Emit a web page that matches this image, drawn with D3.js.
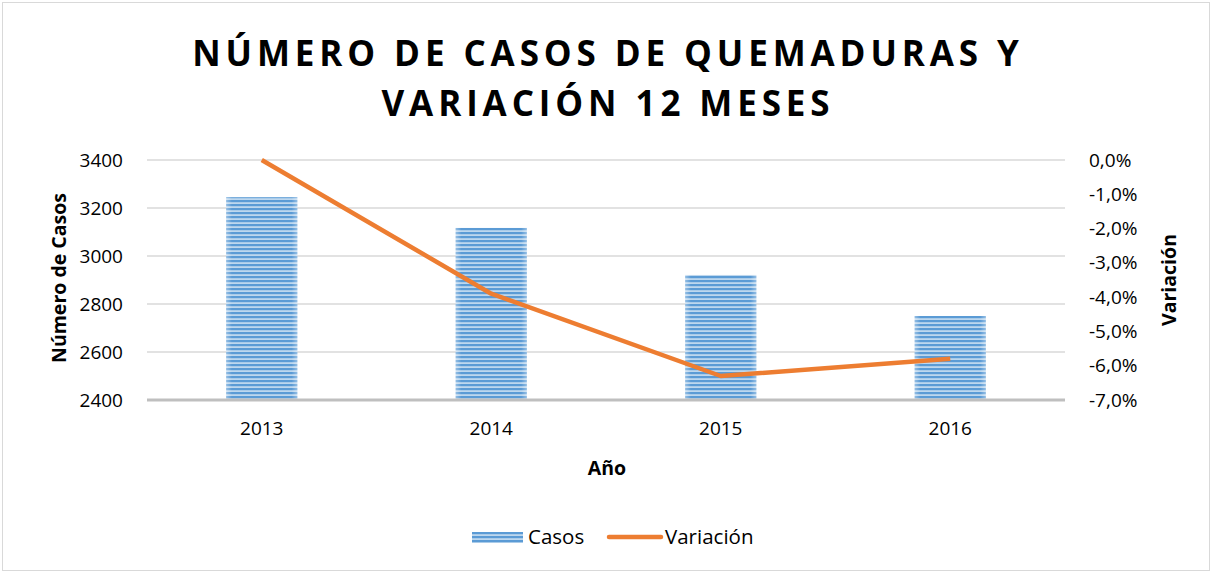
<!DOCTYPE html>
<html>
<head>
<meta charset="utf-8">
<script src="https://cdn.jsdelivr.net/npm/d3@7"></script>
<style>
  body { margin: 0; background: #fff; }
  text { font-family: "Open Sans", Calibri, sans-serif; fill: #000; }
</style>
</head>
<body>
<div id="chart"></div>
<script>
// data
var years = ["2013", "2014", "2015", "2016"];
var casos = [3245, 3117, 2921, 2750];
var variacion = [0.0, -3.9, -6.3, -5.8];
var casosTicks = [2400, 2600, 2800, 3000, 3200, 3400];
var varTicks = [0, -1, -2, -3, -4, -5, -6, -7];

var width = 1212, height = 573;
var m = { left: 147, right: 1065, top: 160, bottom: 400 };

var svg = d3.select("#chart").append("svg")
    .attr("width", width)
    .attr("height", height);

// bar stripe pattern
var defs = svg.append("defs");
var pat = defs.append("pattern")
    .attr("id", "stripes")
    .attr("patternUnits", "userSpaceOnUse")
    .attr("width", 8).attr("height", 4);
pat.append("rect").attr("width", 8).attr("height", 4).attr("fill", "#BDD7EE");
pat.append("rect").attr("width", 8).attr("height", 2.2).attr("fill", "#5B9BD5");

var edge = defs.append("linearGradient").attr("id", "edge");
edge.append("stop").attr("offset", "0%").attr("stop-color", "#fff").attr("stop-opacity", 0.35);
edge.append("stop").attr("offset", "8%").attr("stop-color", "#fff").attr("stop-opacity", 0);
edge.append("stop").attr("offset", "92%").attr("stop-color", "#fff").attr("stop-opacity", 0);
edge.append("stop").attr("offset", "100%").attr("stop-color", "#fff").attr("stop-opacity", 0.35);

// border
svg.append("rect")
    .attr("x", 2.5).attr("y", 2.5)
    .attr("width", width - 5).attr("height", height - 5)
    .attr("fill", "none").attr("stroke", "#D9D9D9");

var x = d3.scaleBand().domain(years).range([m.left, m.right]).paddingInner(0.69).paddingOuter(0.345);
var y = d3.scaleLinear().domain([2400, 3400]).range([m.bottom, m.top]);
var y2 = d3.scaleLinear().domain([-7, 0]).range([m.bottom, m.top]);

// gridlines
svg.append("g").selectAll("line")
    .data(casosTicks.slice(1))
    .enter().append("line")
    .attr("x1", m.left).attr("x2", m.right)
    .attr("y1", function(d) { return y(d); })
    .attr("y2", function(d) { return y(d); })
    .attr("stroke", "#D9D9D9").attr("stroke-width", 1.5);

// bars
var bars = svg.append("g");
bars.selectAll("rect.bar")
    .data(casos)
    .enter().append("rect")
    .attr("class", "bar")
    .attr("x", function(d, i) { return x(years[i]); })
    .attr("y", function(d) { return y(d); })
    .attr("width", x.bandwidth())
    .attr("height", function(d) { return y(2400) - y(d); })
    .attr("fill", "url(#stripes)");
bars.selectAll("rect.edge")
    .data(casos)
    .enter().append("rect")
    .attr("class", "edge")
    .attr("x", function(d, i) { return x(years[i]); })
    .attr("y", function(d) { return y(d); })
    .attr("width", x.bandwidth())
    .attr("height", function(d) { return y(2400) - y(d); })
    .attr("fill", "url(#edge)");

// baseline
svg.append("line")
    .attr("x1", m.left).attr("x2", m.right)
    .attr("y1", y(2400)).attr("y2", y(2400))
    .attr("stroke", "#BFBFBF").attr("stroke-width", 3);

// line series
var line = d3.line()
    .x(function(d, i) { return x(years[i]) + x.bandwidth() / 2; })
    .y(function(d) { return y2(d); });
svg.append("path")
    .datum(variacion)
    .attr("d", line)
    .attr("fill", "none")
    .attr("stroke", "#ED7D31")
    .attr("stroke-width", 4.5)
    .attr("stroke-linejoin", "round");

// axes
var left = svg.append("g")
    .attr("transform", "translate(" + m.left + ",0)")
    .call(d3.axisLeft(y).tickValues(casosTicks).tickSize(0).tickPadding(24).tickFormat(d3.format("d")));
left.select(".domain").remove();
left.selectAll("text").style("font-size", "19px").style("font-family", "'Open Sans', sans-serif");

var fmt = function(d) { return d3.format(".1f")(d).replace(".", ",").replace("−", "-") + "%"; };
var right = svg.append("g")
    .attr("transform", "translate(" + m.right + ",0)")
    .call(d3.axisRight(y2).tickValues(varTicks).tickSize(0).tickPadding(24).tickFormat(fmt));
right.select(".domain").remove();
right.selectAll("text").style("font-size", "19px").style("font-family", "'Open Sans', sans-serif");

var bottom = svg.append("g")
    .attr("transform", "translate(0," + m.bottom + ")")
    .call(d3.axisBottom(x).tickSize(0).tickPadding(22));
bottom.select(".domain").remove();
bottom.selectAll("text").style("font-size", "19px").style("font-family", "'Open Sans', sans-serif");

// title
var title = svg.append("text")
    .attr("text-anchor", "middle")
    .style("font-size", "35px").style("font-weight", "bold").style("letter-spacing", "4.9px");
title.append("tspan").attr("x", 608).attr("y", 66).text("NÚMERO DE CASOS DE QUEMADURAS Y");
title.append("tspan").attr("x", 608).attr("y", 116).text("VARIACIÓN 12 MESES");

// axis titles
svg.append("text")
    .attr("transform", "translate(66,278) rotate(-90)")
    .attr("text-anchor", "middle")
    .style("font-size", "19.5px").style("font-weight", "bold")
    .text("Número de Casos");
svg.append("text")
    .attr("transform", "translate(1176,280) rotate(-90)")
    .attr("text-anchor", "middle")
    .style("font-size", "19.5px").style("font-weight", "bold")
    .text("Variación");
svg.append("text")
    .attr("x", 607).attr("y", 475)
    .attr("text-anchor", "middle")
    .style("font-size", "19.5px").style("font-weight", "bold")
    .text("Año");

// legend
var lg = svg.append("g");
lg.append("rect").attr("x", 472).attr("y", 532).attr("width", 51).attr("height", 11).attr("fill", "url(#stripes)");
lg.append("text").attr("x", 528).attr("y", 544).style("font-size", "20.5px").text("Casos");
lg.append("line").attr("x1", 609).attr("x2", 661).attr("y1", 537).attr("y2", 537)
    .attr("stroke", "#ED7D31").attr("stroke-width", 4.5).attr("stroke-linecap", "round");
lg.append("text").attr("x", 665).attr("y", 544).style("font-size", "20.5px").text("Variación");
</script>
</body>
</html>
